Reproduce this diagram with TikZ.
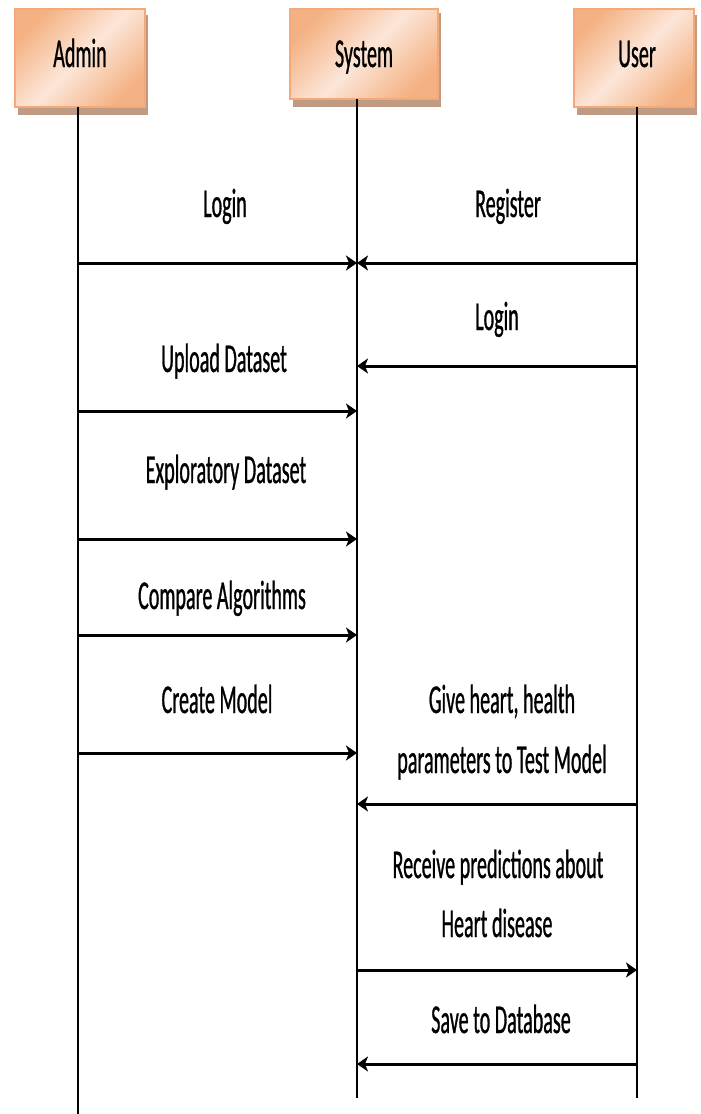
\documentclass[tikz,border=0pt]{standalone}
\usepackage{fontspec}
\usetikzlibrary{arrows.meta}
\newfontfamily\msgfont[FakeStretch=0.49,FakeBold=0.7]{Carlito}
\definecolor{boxedge}{RGB}{244,170,120}
\definecolor{boxdark}{RGB}{244,178,132}
\definecolor{boxlight}{RGB}{252,230,216}
\definecolor{boxshadow}{RGB}{190,155,130}
\tikzset{
  actor/.style={draw=boxedge, line width=2pt,
    top color=boxdark, bottom color=boxdark, middle color=boxlight,
    shading angle=45, minimum height=0pt},
  shadowbox/.style={fill=boxshadow, draw=none},
  lifeline/.style={line width=2.6pt, black},
  msg/.style={line width=3pt, -{Stealth[length=11pt,width=15pt,inset=3pt]}},
  lbl/.style={font=\msgfont\fontsize{41}{60}\selectfont, anchor=base, inner sep=0pt},
  mlbl/.style={lbl, align=center}
}
\begin{document}
\begin{tikzpicture}[x=1pt,y=-1pt]
\useasboundingbox (0,0) rectangle (701,1114);

% actor boxes with drop shadows
\fill[shadowbox] (18,15) rectangle (148,115);
\fill[shadowbox] (293,13) rectangle (441,107);
\fill[shadowbox] (577,15) rectangle (697,115);
\path[actor] (15,9) rectangle (145,107);
\path[actor] (290,9) rectangle (438,99);
\path[actor] (574,9) rectangle (694,107);
\node[lbl] (admin) at (80,67) {Admin};
\node[lbl] (system) at (364,67) {System};
\node[lbl] (user) at (637,67) {User};

% lifelines
\coordinate (aTop) at (78,107);
\coordinate (sTop) at (357,99);
\coordinate (uTop) at (637,107);
\coordinate (aEnd) at (78,1114);
\coordinate (sEnd) at (357,1098);
\coordinate (uEnd) at (637,1098);
\draw[lifeline] (aTop) -- (aEnd);
\draw[lifeline] (sTop) -- (sEnd);
\draw[lifeline] (uTop) -- (uEnd);

% message anchor points on the lifelines
\coordinate (a1) at (78,263);  \coordinate (s1) at (357,263);
\coordinate (u1) at (637,263);
\coordinate (u2) at (637,366);  \coordinate (s2) at (357,366);
\coordinate (a3) at (78,411);  \coordinate (s3) at (357,411);
\coordinate (a4) at (78,539);  \coordinate (s4) at (357,539);
\coordinate (a5) at (78,635);  \coordinate (s5) at (357,635);
\coordinate (a6) at (78,753);  \coordinate (s6) at (357,753);
\coordinate (u7) at (637,804);  \coordinate (s7) at (357,804);
\coordinate (s8) at (357,970);  \coordinate (u8) at (637,970);
\coordinate (u9) at (637,1064); \coordinate (s9) at (357,1064);

% messages
\draw[msg] (a1) -- (s1);
\draw[msg] (u1) -- (s1);
\draw[msg] (u2) -- (s2);
\draw[msg] (a3) -- (s3);
\draw[msg] (a4) -- (s4);
\draw[msg] (a5) -- (s5);
\draw[msg] (a6) -- (s6);
\draw[msg] (u7) -- (s7);
\draw[msg] (s8) -- (u8);
\draw[msg] (u9) -- (s9);

% message labels
\node[lbl] (lLoginA) at (225,217) {Login};
\node[lbl] (lRegister) at (508,217) {Register};
\node[lbl] (lLoginU) at (497,330) {Login};
\node[lbl] (lUpload) at (224,372) {Upload Dataset};
\node[lbl] (lExplore) at (226,483) {Exploratory Dataset};
\node[lbl] (lCompare) at (222,609) {Compare Algorithms};
\node[lbl] (lCreate) at (217,713) {Create Model};
\node[lbl] (lGive1) at (502,713) {Give heart, health};
\node[lbl] (lGive2) at (502,773) {parameters to Test Model};
\node[lbl] (lRecv1) at (498,878) {Receive predictions about};
\node[lbl] (lRecv2) at (497,937) {Heart disease};
\node[lbl] (lSave) at (501,1033) {Save to Database};
\end{tikzpicture}
\end{document}
